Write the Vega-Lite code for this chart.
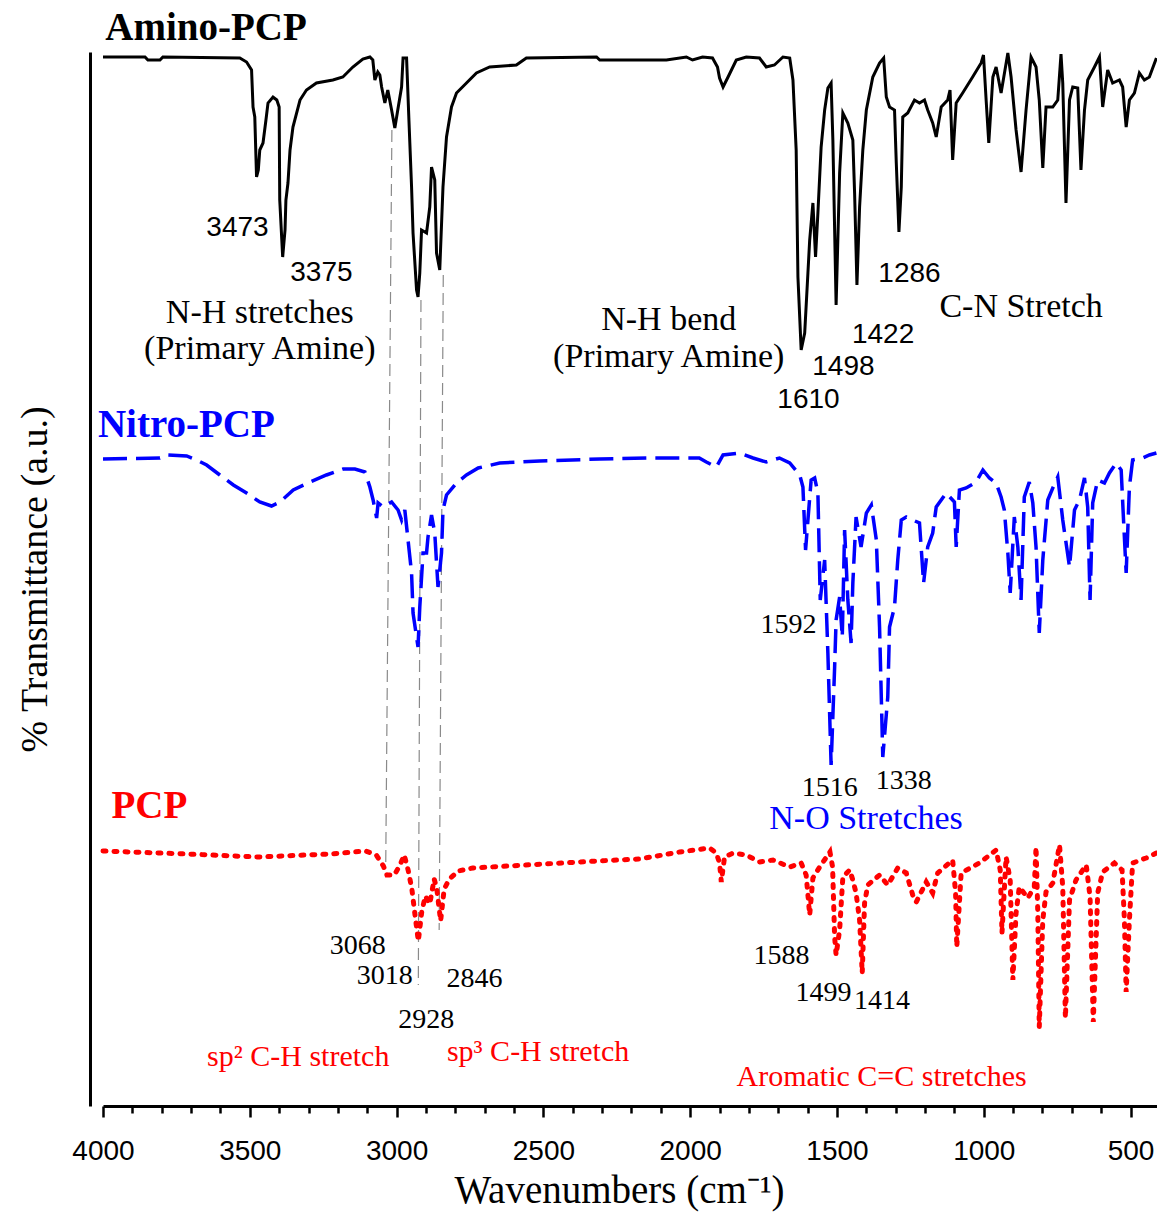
{
"$schema": "https://vega.github.io/schema/vega-lite/v6.json",
"width": 1054,
"height": 1054,
"autosize": {"type": "none"},
"padding": {"left": 103, "top": 52, "right": 0, "bottom": 107},
"background": "white",
"config": {"view": {"stroke": null}},
"datasets": {
"amino": [
{"w":4000,"t":1049},{"w":3857,"t":1049},{"w":3847,"t":1046},{"w":3806,"t":1046},{"w":3796,"t":1049},{"w":3534,"t":1048},{"w":3511,"t":1044},{"w":3494,"t":1036},{"w":3489,"t":999},{"w":3483,"t":989},{"w":3477,"t":929},{"w":3471,"t":936},{"w":3466,"t":956},{"w":3455,"t":963},{"w":3445,"t":986},{"w":3438,"t":1003},{"w":3421,"t":1009},{"w":3408,"t":1006},{"w":3400,"t":999},{"w":3398,"t":906},{"w":3388,"t":849},{"w":3380,"t":876},{"w":3377,"t":906},{"w":3370,"t":923},{"w":3363,"t":956},{"w":3353,"t":979},{"w":3329,"t":1006},{"w":3307,"t":1016},{"w":3273,"t":1023},{"w":3217,"t":1026},{"w":3183,"t":1029},{"w":3149,"t":1039},{"w":3115,"t":1047},{"w":3091,"t":1049},{"w":3081,"t":1046},{"w":3074,"t":1026},{"w":3064,"t":1034},{"w":3057,"t":1031},{"w":3051,"t":1019},{"w":3040,"t":1003},{"w":3030,"t":1016},{"w":3017,"t":996},{"w":3006,"t":978},{"w":2996,"t":996},{"w":2983,"t":1019},{"w":2978,"t":1048},{"w":2966,"t":1048},{"w":2958,"t":986},{"w":2949,"t":919},{"w":2944,"t":873},{"w":2932,"t":816},{"w":2927,"t":809},{"w":2921,"t":833},{"w":2915,"t":876},{"w":2898,"t":873},{"w":2887,"t":899},{"w":2881,"t":939},{"w":2870,"t":926},{"w":2864,"t":853},{"w":2853,"t":836},{"w":2842,"t":919},{"w":2830,"t":969},{"w":2813,"t":999},{"w":2796,"t":1013},{"w":2762,"t":1023},{"w":2728,"t":1033},{"w":2683,"t":1039},{"w":2592,"t":1041},{"w":2558,"t":1048},{"w":2319,"t":1049},{"w":2308,"t":1046},{"w":2081,"t":1046},{"w":2013,"t":1049},{"w":1992,"t":1046},{"w":1958,"t":1049},{"w":1924,"t":1048},{"w":1907,"t":1039},{"w":1900,"t":1028},{"w":1888,"t":1019},{"w":1871,"t":1029},{"w":1843,"t":1046},{"w":1809,"t":1049},{"w":1764,"t":1048},{"w":1741,"t":1039},{"w":1713,"t":1041},{"w":1684,"t":1049},{"w":1661,"t":1048},{"w":1650,"t":1026},{"w":1639,"t":956},{"w":1633,"t":829},{"w":1622,"t":756},{"w":1610,"t":773},{"w":1599,"t":833},{"w":1593,"t":866},{"w":1582,"t":903},{"w":1573,"t":849},{"w":1565,"t":893},{"w":1554,"t":959},{"w":1542,"t":996},{"w":1531,"t":1018},{"w":1520,"t":1023},{"w":1514,"t":966},{"w":1503,"t":801},{"w":1491,"t":933},{"w":1480,"t":993},{"w":1463,"t":983},{"w":1446,"t":966},{"w":1440,"t":913},{"w":1432,"t":821},{"w":1423,"t":899},{"w":1412,"t":956},{"w":1400,"t":996},{"w":1378,"t":1029},{"w":1355,"t":1043},{"w":1341,"t":1048},{"w":1332,"t":1009},{"w":1321,"t":999},{"w":1304,"t":996},{"w":1298,"t":943},{"w":1289,"t":874},{"w":1281,"t":919},{"w":1276,"t":989},{"w":1259,"t":993},{"w":1236,"t":1006},{"w":1219,"t":1003},{"w":1202,"t":1006},{"w":1191,"t":996},{"w":1174,"t":983},{"w":1162,"t":969},{"w":1145,"t":999},{"w":1123,"t":1006},{"w":1115,"t":1016},{"w":1106,"t":946},{"w":1094,"t":1003},{"w":1072,"t":1013},{"w":1038,"t":1029},{"w":1009,"t":1043},{"w":1001,"t":1051},{"w":992,"t":1006},{"w":983,"t":963},{"w":969,"t":1029},{"w":958,"t":1039},{"w":941,"t":1013},{"w":918,"t":1053},{"w":907,"t":1029},{"w":890,"t":976},{"w":873,"t":934},{"w":856,"t":996},{"w":839,"t":1049},{"w":822,"t":1039},{"w":811,"t":1006},{"w":799,"t":938},{"w":788,"t":999},{"w":765,"t":999},{"w":748,"t":1006},{"w":737,"t":1052},{"w":731,"t":1023},{"w":720,"t":903},{"w":708,"t":1006},{"w":697,"t":1019},{"w":680,"t":1018},{"w":669,"t":936},{"w":657,"t":996},{"w":646,"t":1026},{"w":623,"t":1039},{"w":606,"t":1049},{"w":595,"t":999},{"w":578,"t":1036},{"w":561,"t":1023},{"w":538,"t":1026},{"w":527,"t":1019},{"w":515,"t":979},{"w":504,"t":1006},{"w":487,"t":1013},{"w":470,"t":1033},{"w":453,"t":1026},{"w":436,"t":1029},{"w":412,"t":1048}
],
"nitro": [
{"w":4000,"t":647},{"w":3806,"t":648},{"w":3783,"t":651},{"w":3715,"t":650},{"w":3681,"t":646},{"w":3647,"t":641},{"w":3602,"t":631},{"w":3556,"t":621},{"w":3511,"t":613},{"w":3466,"t":604},{"w":3426,"t":600},{"w":3397,"t":604},{"w":3352,"t":616},{"w":3295,"t":624},{"w":3239,"t":631},{"w":3182,"t":637},{"w":3142,"t":637},{"w":3108,"t":634},{"w":3091,"t":619},{"w":3080,"t":606},{"w":3068,"t":588},{"w":3063,"t":603},{"w":3046,"t":599},{"w":3017,"t":604},{"w":2995,"t":596},{"w":2983,"t":586},{"w":2972,"t":596},{"w":2961,"t":566},{"w":2949,"t":533},{"w":2944,"t":493},{"w":2927,"t":459},{"w":2921,"t":499},{"w":2910,"t":553},{"w":2898,"t":553},{"w":2893,"t":569},{"w":2881,"t":591},{"w":2870,"t":573},{"w":2859,"t":519},{"w":2847,"t":553},{"w":2842,"t":596},{"w":2830,"t":611},{"w":2796,"t":623},{"w":2762,"t":631},{"w":2722,"t":638},{"w":2649,"t":643},{"w":2512,"t":645},{"w":2308,"t":647},{"w":2138,"t":648},{"w":1969,"t":648},{"w":1945,"t":644},{"w":1911,"t":639},{"w":1888,"t":651},{"w":1832,"t":653},{"w":1786,"t":648},{"w":1741,"t":644},{"w":1696,"t":648},{"w":1661,"t":643},{"w":1627,"t":631},{"w":1616,"t":619},{"w":1607,"t":556},{"w":1599,"t":586},{"w":1588,"t":626},{"w":1576,"t":628},{"w":1565,"t":613},{"w":1557,"t":506},{"w":1542,"t":546},{"w":1531,"t":453},{"w":1520,"t":341},{"w":1508,"t":439},{"w":1503,"t":486},{"w":1491,"t":509},{"w":1482,"t":469},{"w":1474,"t":576},{"w":1463,"t":506},{"w":1452,"t":463},{"w":1446,"t":523},{"w":1435,"t":589},{"w":1418,"t":559},{"w":1400,"t":593},{"w":1383,"t":601},{"w":1366,"t":566},{"w":1355,"t":479},{"w":1344,"t":349},{"w":1327,"t":409},{"w":1321,"t":479},{"w":1304,"t":499},{"w":1293,"t":546},{"w":1281,"t":586},{"w":1264,"t":589},{"w":1242,"t":586},{"w":1219,"t":583},{"w":1205,"t":523},{"w":1191,"t":559},{"w":1174,"t":573},{"w":1162,"t":599},{"w":1128,"t":613},{"w":1100,"t":604},{"w":1094,"t":559},{"w":1083,"t":616},{"w":1060,"t":618},{"w":1026,"t":624},{"w":1003,"t":636},{"w":981,"t":628},{"w":958,"t":623},{"w":941,"t":609},{"w":930,"t":596},{"w":918,"t":553},{"w":910,"t":513},{"w":896,"t":589},{"w":884,"t":559},{"w":873,"t":506},{"w":862,"t":609},{"w":845,"t":624},{"w":833,"t":603},{"w":822,"t":559},{"w":811,"t":473},{"w":799,"t":546},{"w":782,"t":606},{"w":765,"t":618},{"w":748,"t":629},{"w":731,"t":586},{"w":708,"t":539},{"w":691,"t":596},{"w":674,"t":606},{"w":657,"t":628},{"w":646,"t":599},{"w":638,"t":506},{"w":629,"t":603},{"w":612,"t":626},{"w":589,"t":623},{"w":572,"t":633},{"w":549,"t":643},{"w":532,"t":636},{"w":524,"t":586},{"w":515,"t":533},{"w":504,"t":619},{"w":493,"t":646},{"w":459,"t":648},{"w":436,"t":651},{"w":412,"t":653}
],
"pcp": [
{"w":4000,"t":255},{"w":3714,"t":252},{"w":3470,"t":249},{"w":3227,"t":252},{"w":3106,"t":255},{"w":3069,"t":251},{"w":3045,"t":240},{"w":3033,"t":231},{"w":3008,"t":231},{"w":2990,"t":240},{"w":2974,"t":251},{"w":2960,"t":235},{"w":2948,"t":217},{"w":2936,"t":188},{"w":2926,"t":165},{"w":2914,"t":195},{"w":2902,"t":210},{"w":2887,"t":202},{"w":2872,"t":227},{"w":2863,"t":217},{"w":2850,"t":185},{"w":2838,"t":217},{"w":2820,"t":227},{"w":2790,"t":235},{"w":2741,"t":238},{"w":2619,"t":240},{"w":2498,"t":242},{"w":2315,"t":245},{"w":2172,"t":247},{"w":2036,"t":254},{"w":1934,"t":258},{"w":1911,"t":253},{"w":1900,"t":243},{"w":1894,"t":224},{"w":1883,"t":249},{"w":1854,"t":253},{"w":1809,"t":251},{"w":1764,"t":244},{"w":1718,"t":246},{"w":1661,"t":239},{"w":1622,"t":243},{"w":1605,"t":231},{"w":1593,"t":191},{"w":1582,"t":228},{"w":1559,"t":239},{"w":1524,"t":254},{"w":1515,"t":239},{"w":1508,"t":169},{"w":1503,"t":151},{"w":1491,"t":176},{"w":1480,"t":229},{"w":1457,"t":236},{"w":1446,"t":226},{"w":1435,"t":213},{"w":1423,"t":186},{"w":1414,"t":133},{"w":1406,"t":203},{"w":1395,"t":221},{"w":1355,"t":231},{"w":1327,"t":221},{"w":1293,"t":238},{"w":1264,"t":233},{"w":1242,"t":211},{"w":1230,"t":204},{"w":1196,"t":224},{"w":1174,"t":213},{"w":1157,"t":233},{"w":1106,"t":246},{"w":1096,"t":213},{"w":1092,"t":159},{"w":1077,"t":233},{"w":1015,"t":243},{"w":958,"t":256},{"w":944,"t":236},{"w":938,"t":173},{"w":924,"t":249},{"w":910,"t":226},{"w":901,"t":126},{"w":890,"t":193},{"w":879,"t":219},{"w":850,"t":208},{"w":828,"t":219},{"w":822,"t":259},{"w":816,"t":193},{"w":811,"t":79},{"w":799,"t":186},{"w":788,"t":214},{"w":765,"t":223},{"w":742,"t":261},{"w":731,"t":219},{"w":722,"t":88},{"w":708,"t":206},{"w":686,"t":226},{"w":651,"t":241},{"w":638,"t":209},{"w":627,"t":84},{"w":612,"t":213},{"w":595,"t":234},{"w":555,"t":243},{"w":529,"t":236},{"w":521,"t":186},{"w":515,"t":114},{"w":504,"t":186},{"w":493,"t":243},{"w":447,"t":248},{"w":412,"t":253}
],
"guides": [
{"w":3016,"t":976,"w2":3037,"t2":240},
{"w":2917,"t":806,"w2":2926,"t2":121},
{"w":2841,"t":831,"w2":2855,"t2":176}
],
"labels": [
{"w":3649,"t":1078,"label":"Amino-PCP","kind":"title","group":"amino"},
{"w":3716,"t":681,"label":"Nitro-PCP","kind":"title","group":"nitro"},
{"w":3842,"t":300,"label":"PCP","kind":"title","group":"pcp"},
{"w":3542,"t":878,"label":"3473","kind":"peak","group":"amino"},
{"w":3256,"t":833,"label":"3375","kind":"peak","group":"amino"},
{"w":1597,"t":706,"label":"1610","kind":"peak","group":"amino"},
{"w":1478,"t":739,"label":"1498","kind":"peak","group":"amino"},
{"w":1343,"t":771,"label":"1422","kind":"peak","group":"amino"},
{"w":1253,"t":832,"label":"1286","kind":"peak","group":"amino"},
{"w":1665,"t":481,"label":"1592","kind":"peak","group":"nitro"},
{"w":1525,"t":318,"label":"1516","kind":"peak","group":"nitro"},
{"w":1273,"t":325,"label":"1338","kind":"peak","group":"nitro"},
{"w":3132,"t":160,"label":"3068","kind":"peak","group":"pcp"},
{"w":3040,"t":130,"label":"3018","kind":"peak","group":"pcp"},
{"w":2735,"t":127,"label":"2846","kind":"peak","group":"pcp"},
{"w":2899,"t":86,"label":"2928","kind":"peak","group":"pcp"},
{"w":1689,"t":150,"label":"1588","kind":"peak","group":"pcp"},
{"w":1546,"t":113,"label":"1499","kind":"peak","group":"pcp"},
{"w":1347,"t":105,"label":"1414","kind":"peak","group":"pcp"},
{"w":3466,"t":793,"label":"N-H stretches","kind":"band","group":"amino"},
{"w":3466,"t":757,"label":"(Primary Amine)","kind":"band","group":"amino"},
{"w":2073,"t":786,"label":"N-H bend","kind":"band","group":"amino"},
{"w":2073,"t":749,"label":"(Primary Amine)","kind":"band","group":"amino"},
{"w":873,"t":799,"label":"C-N Stretch","kind":"band","group":"amino"},
{"w":1401,"t":287,"label":"N-O Stretches","kind":"band","group":"nitro"},
{"w":3335,"t":49,"label":"sp² C-H stretch","kind":"band","group":"pcp"},
{"w":2518,"t":54,"label":"sp³ C-H stretch","kind":"band","group":"pcp"},
{"w":1348,"t":29,"label":"Aromatic C=C stretches","kind":"band","group":"pcp"}
]
},
"encoding": {
"x": {"field": "w", "type": "quantitative",
  "scale": {"domain": [410, 4000], "reverse": true, "nice": false, "zero": false},
  "axis": {
    "values": [4000,3900,3800,3700,3600,3500,3400,3300,3200,3100,3000,2900,2800,2700,2600,2500,2400,2300,2200,2100,2000,1900,1800,1700,1600,1500,1400,1300,1200,1100,1000,900,800,700,600,500],
    "format": "d",
    "labelExpr": "datum.value % 500 === 0 ? datum.label : ''",
    "labelOverlap": false, "labelFlush": false,
    "tickSize": {"condition": {"test": "datum.value % 500 === 0", "value": 11}, "value": 7},
    "tickWidth": 2.5, "tickColor": "black",
    "domainWidth": 3, "domainColor": "black",
    "grid": false,
    "labelFont": "Liberation Sans", "labelFontSize": 28, "labelColor": "black", "labelPadding": 20,
    "title": "Wavenumbers (cm⁻¹)", "titleFont": "Liberation Serif", "titleFontSize": 39, "titleFontWeight": "normal", "titleColor": "black", "titlePadding": 6, "titleX": 516
  }},
"y": {"field": "t", "type": "quantitative",
  "scale": {"domain": [0, 1054], "nice": false, "zero": false},
  "axis": {
    "ticks": false, "labels": false, "grid": false, "offset": 13,
    "domainWidth": 3, "domainColor": "black",
    "title": "% Transmittance (a.u.)", "titleFont": "Liberation Serif", "titleFontSize": 38, "titleFontWeight": "normal", "titleColor": "black", "titlePadding": 36
  }}
},
"layer": [
{"data": {"name": "guides"}, "mark": {"type": "rule", "color": "#8a8a8a", "strokeWidth": 1.2, "strokeDash": [12, 6]},
 "encoding": {"x2": {"field": "w2"}, "y2": {"field": "t2"}}},
{"data": {"name": "amino"}, "mark": {"type": "line", "color": "black", "strokeWidth": 3, "strokeJoin": "miter"}, "encoding": {}},
{"data": {"name": "nitro"}, "mark": {"type": "line", "color": "#0000FF", "strokeWidth": 3.5, "strokeDash": [24, 9]}, "encoding": {}},
{"data": {"name": "pcp"}, "mark": {"type": "line", "color": "#FF0000", "strokeWidth": 5, "strokeDash": [3, 8], "strokeCap": "round"}, "encoding": {}},
{"data": {"name": "labels"}, "transform": [{"filter": "datum.kind === 'title'"}],
 "mark": {"type": "text", "font": "Liberation Serif", "fontWeight": "bold", "fontSize": 39, "align": "center", "baseline": "middle"},
 "encoding": {"text": {"field": "label"}, "color": {"field": "group", "type": "nominal", "scale": {"domain": ["amino","nitro","pcp"], "range": ["#000000","#0000FF","#FF0000"]}, "legend": null}}},
{"data": {"name": "labels"}, "transform": [{"filter": "datum.kind === 'peak' && datum.group === 'amino'"}],
 "mark": {"type": "text", "font": "Liberation Sans", "fontSize": 28, "align": "center", "baseline": "middle", "color": "black"},
 "encoding": {"text": {"field": "label"}}},
{"data": {"name": "labels"}, "transform": [{"filter": "datum.kind === 'peak' && datum.group !== 'amino'"}],
 "mark": {"type": "text", "font": "Liberation Serif", "fontSize": 28, "align": "center", "baseline": "middle", "color": "black"},
 "encoding": {"text": {"field": "label"}}},
{"data": {"name": "labels"}, "transform": [{"filter": "datum.kind === 'band' && datum.group !== 'pcp'"}],
 "mark": {"type": "text", "font": "Liberation Serif", "fontSize": 34, "align": "center", "baseline": "middle"},
 "encoding": {"text": {"field": "label"}, "color": {"field": "group", "type": "nominal", "scale": {"domain": ["amino","nitro","pcp"], "range": ["#000000","#0000FF","#FF0000"]}, "legend": null}}},
{"data": {"name": "labels"}, "transform": [{"filter": "datum.kind === 'band' && datum.group === 'pcp'"}],
 "mark": {"type": "text", "font": "Liberation Serif", "fontSize": 30, "align": "center", "baseline": "middle", "color": "#FF0000"},
 "encoding": {"text": {"field": "label"}}}
]
}
